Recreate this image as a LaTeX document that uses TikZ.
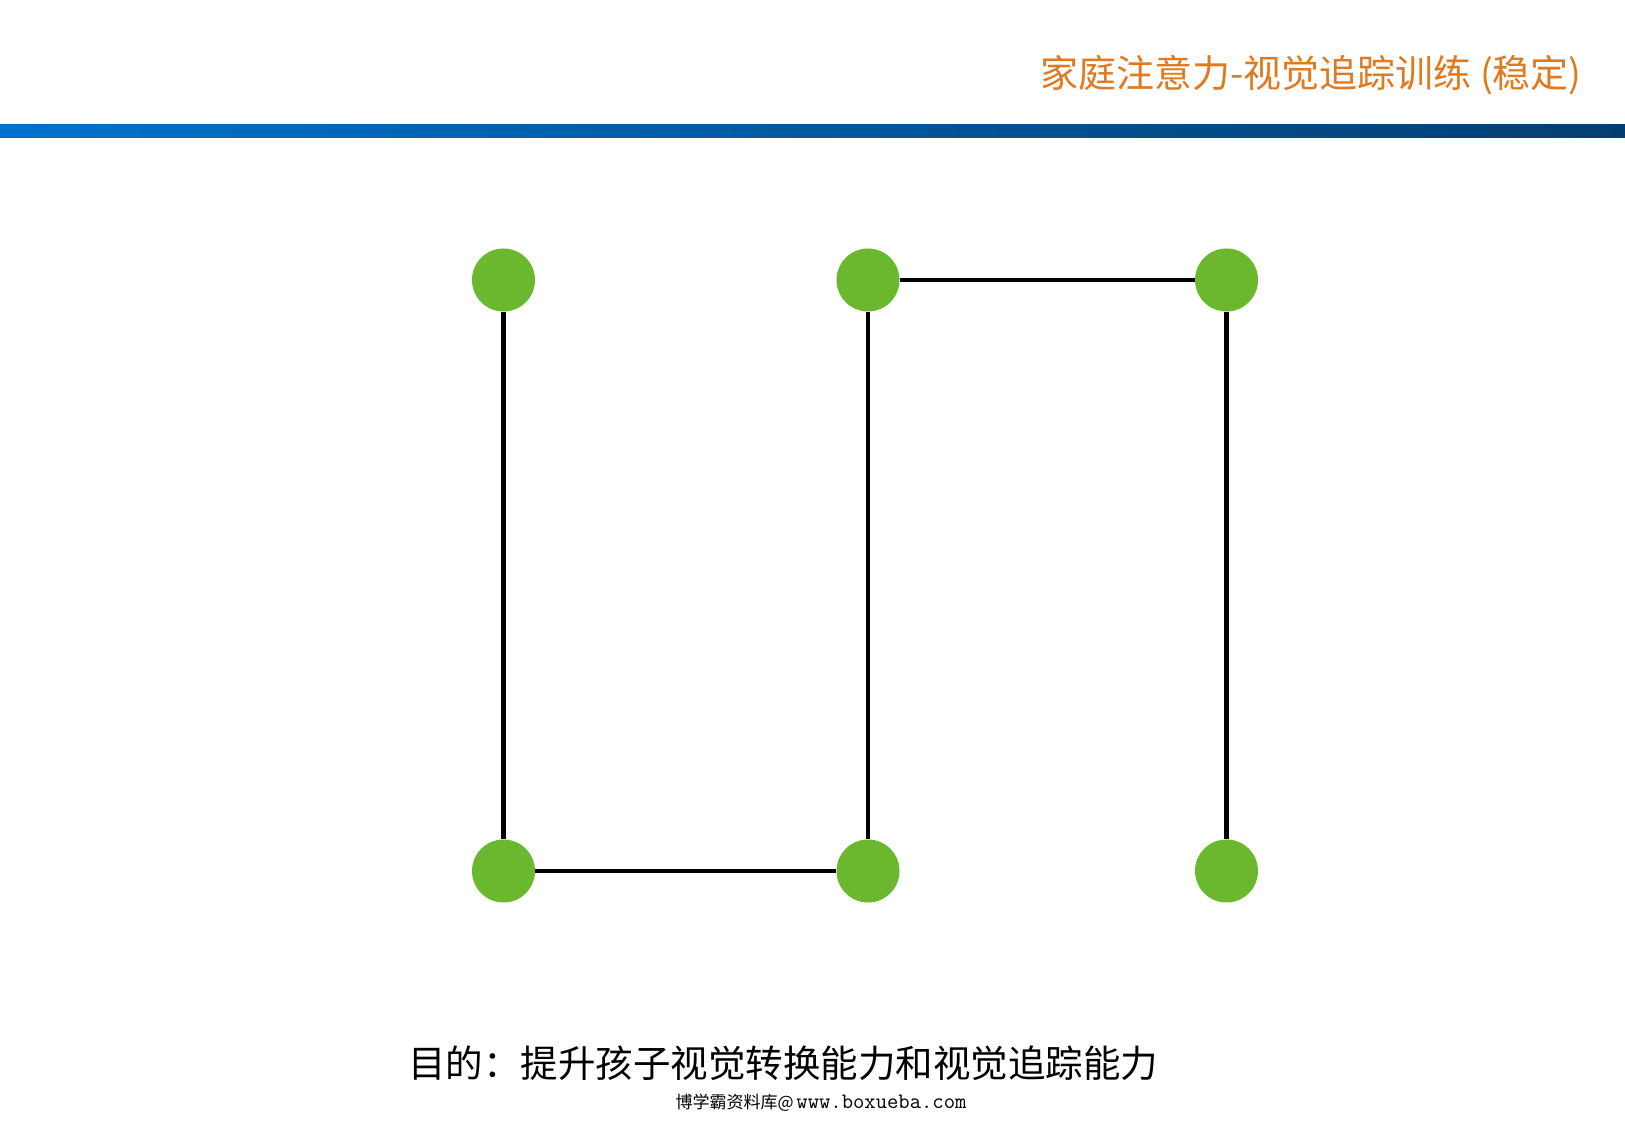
\documentclass[tikz,border=0pt]{standalone}
\usepackage{fontspec}
\newfontfamily\cjk{Noto Sans CJK SC}
\usetikzlibrary{positioning}

\definecolor{dotgreen}{RGB}{107,183,45}
\definecolor{titleorange}{RGB}{224,122,31}
\definecolor{barleft}{RGB}{0,114,204}
\definecolor{barright}{RGB}{4,62,112}

\tikzset{
  dot/.style={circle, fill=dotgreen, minimum size=63pt, inner sep=0pt},
  link/.style={line width=4.6pt, black}
}

\begin{document}
\begin{tikzpicture}[x=1pt, y=1pt]
        \useasboundingbox[fill=white] (0, 0) rectangle (1625, 1125);
        \shade[left color=barleft, right color=barright] (0, 987) rectangle (1625, 1000);
        \node[anchor=east, text=titleorange, font=\cjk\fontsize{38}{42}\selectfont, inner sep=0pt] (title) at (1582, 1050) {家庭注意力-视觉追踪训练 (稳定)};
        \node[dot] (a1) at (503.5, 845) {};
        \node[dot] (b1) at (868, 845) {};
        \node[dot] (c1) at (1226.5, 845) {};
        \node[dot] (a2) at (503.5, 254) {};
        \node[dot] (b2) at (868, 254) {};
        \node[dot] (c2) at (1226.5, 254) {};
        \draw[link] (a1) -- (a2) -- (b2) -- (b1) -- (c1) -- (c2);
        \node[font=\cjk\fontsize{37.5}{40}\selectfont, inner sep=0pt] (goal) at (783, 62) {目的：提升孩子视觉转换能力和视觉追踪能力};
        \node[font=\cjk\fontsize{17}{19}\selectfont, inner sep=0pt] (mark) at (821, 22) {博学霸资料库@\,{\ttfamily\fontsize{22}{23}\selectfont www.boxueba.com}};
\end{tikzpicture}
\end{document}
